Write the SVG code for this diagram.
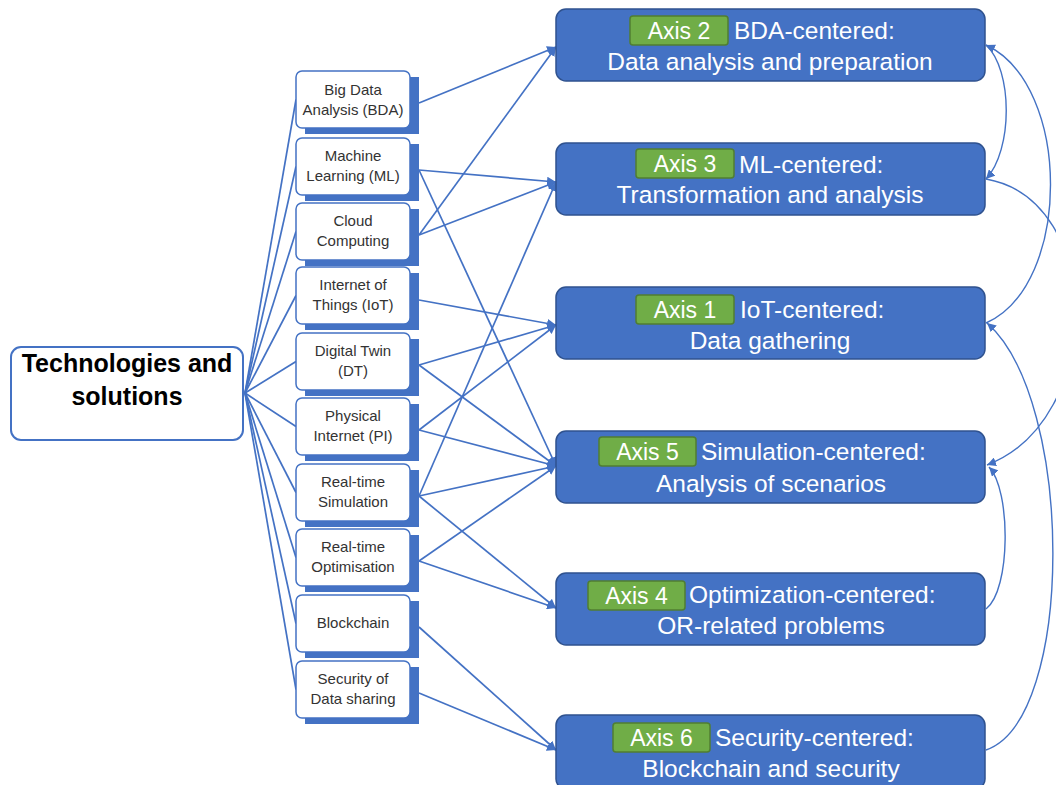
<svg xmlns="http://www.w3.org/2000/svg" width="1056" height="785" viewBox="0 0 1056 785">
<defs>
<style>
.ln{stroke:#4472C4;stroke-width:1.7;fill:none}
.cv{stroke:#4472C4;stroke-width:1.4;fill:none}
.node{fill:#fff;stroke:#4472C4;stroke-width:1.5}
.shadow{fill:#4472C4}
.ntx{font-family:"Liberation Sans",Arial,sans-serif;font-size:15px;fill:#333;text-anchor:middle}
.axis{fill:#4472C4;stroke:#2F528F;stroke-width:1.5}
.badge{fill:#70AD47;stroke:#507E32;stroke-width:1.5}
.btx{font-family:"Liberation Sans",Arial,sans-serif;font-size:23px;fill:#fff;text-anchor:middle}
.atx{font-family:"Liberation Sans",Arial,sans-serif;font-size:24.5px;fill:#fff}
.rtx{font-family:"Liberation Sans",Arial,sans-serif;font-size:25px;font-weight:bold;fill:#000;text-anchor:middle}
</style>
<marker id="ah" viewBox="0 0 10 10" refX="10" refY="5" markerWidth="9" markerHeight="9" markerUnits="userSpaceOnUse" orient="auto">
<path d="M0,0 L10,5 L0,10 z" fill="#4472C4"/>
</marker>
</defs>
<rect width="1056" height="785" fill="#fff"/>

<g id="connectors">
<line class="ln" x1="245" y1="393" x2="296" y2="99.5"/>
<line class="ln" x1="245" y1="393" x2="296" y2="166.5"/>
<line class="ln" x1="245" y1="393" x2="296" y2="231.5"/>
<line class="ln" x1="245" y1="393" x2="296" y2="295.5"/>
<line class="ln" x1="245" y1="393" x2="296" y2="361.5"/>
<line class="ln" x1="245" y1="393" x2="296" y2="426.5"/>
<line class="ln" x1="245" y1="393" x2="296" y2="492.5"/>
<line class="ln" x1="245" y1="393" x2="296" y2="557.5"/>
<line class="ln" x1="245" y1="393" x2="296" y2="623.5"/>
<line class="ln" x1="245" y1="393" x2="296" y2="689.5"/>
<line class="ln" marker-end="url(#ah)" x1="419" y1="103" x2="556" y2="47"/>
<line class="ln" marker-end="url(#ah)" x1="419" y1="170" x2="556" y2="182"/>
<line class="ln" marker-end="url(#ah)" x1="419" y1="170" x2="556" y2="466"/>
<line class="ln" marker-end="url(#ah)" x1="419" y1="235" x2="556" y2="47"/>
<line class="ln" marker-end="url(#ah)" x1="419" y1="235" x2="556" y2="182"/>
<line class="ln" marker-end="url(#ah)" x1="419" y1="300" x2="556" y2="325"/>
<line class="ln" marker-end="url(#ah)" x1="419" y1="365" x2="556" y2="325"/>
<line class="ln" marker-end="url(#ah)" x1="419" y1="365" x2="556" y2="466"/>
<line class="ln" marker-end="url(#ah)" x1="419" y1="430" x2="556" y2="325"/>
<line class="ln" marker-end="url(#ah)" x1="419" y1="430" x2="556" y2="466"/>
<line class="ln" marker-end="url(#ah)" x1="419" y1="496" x2="556" y2="182"/>
<line class="ln" marker-end="url(#ah)" x1="419" y1="496" x2="556" y2="466"/>
<line class="ln" marker-end="url(#ah)" x1="419" y1="496" x2="556" y2="608"/>
<line class="ln" marker-end="url(#ah)" x1="419" y1="561" x2="556" y2="466"/>
<line class="ln" marker-end="url(#ah)" x1="419" y1="561" x2="556" y2="608"/>
<line class="ln" marker-end="url(#ah)" x1="419" y1="627" x2="556" y2="750"/>
<line class="ln" marker-end="url(#ah)" x1="419" y1="693" x2="556" y2="750"/>
<path class="cv" marker-end="url(#ah)" d="M986,323 C1072,285 1072,85 986,45"/>
<path class="cv" marker-end="url(#ah)" d="M986,45 C1013,70 1013,150 986,179"/>
<path class="cv" marker-end="url(#ah)" d="M986,179 C1105,200 1105,420 987,465"/>
<path class="cv" marker-end="url(#ah)" d="M986,609 C1011,590 1011,490 989,467"/>
<path class="cv" marker-end="url(#ah)" d="M986,750 C1075,720 1075,400 987,323"/>
</g>

<g id="root">
<rect x="11" y="347" width="232" height="93" rx="10" fill="#fff" stroke="#4472C4" stroke-width="2"/>
<text class="rtx" x="127" y="372">Technologies and</text>
<text class="rtx" x="127" y="405">solutions</text>
</g>

<g id="n-bda">
<rect class="shadow" x="305" y="77" width="114" height="57"/>
<rect class="node" x="296" y="71" width="114" height="57" rx="6"/>
<text class="ntx" x="353" y="95">Big Data</text>
<text class="ntx" x="353" y="115">Analysis (BDA)</text>
</g>
<g id="n-ml">
<rect class="shadow" x="305" y="144" width="114" height="57"/>
<rect class="node" x="296" y="138" width="114" height="57" rx="6"/>
<text class="ntx" x="353" y="161">Machine</text>
<text class="ntx" x="353" y="181">Learning (ML)</text>
</g>
<g id="n-cloud">
<rect class="shadow" x="305" y="209" width="114" height="57"/>
<rect class="node" x="296" y="203" width="114" height="57" rx="6"/>
<text class="ntx" x="353" y="226">Cloud</text>
<text class="ntx" x="353" y="246">Computing</text>
</g>
<g id="n-iot">
<rect class="shadow" x="305" y="273" width="114" height="57"/>
<rect class="node" x="296" y="267" width="114" height="57" rx="6"/>
<text class="ntx" x="353" y="290">Internet of</text>
<text class="ntx" x="353" y="310">Things (IoT)</text>
</g>
<g id="n-dt">
<rect class="shadow" x="305" y="339" width="114" height="57"/>
<rect class="node" x="296" y="333" width="114" height="57" rx="6"/>
<text class="ntx" x="353" y="356">Digital Twin</text>
<text class="ntx" x="353" y="376">(DT)</text>
</g>
<g id="n-pi">
<rect class="shadow" x="305" y="404" width="114" height="57"/>
<rect class="node" x="296" y="398" width="114" height="57" rx="6"/>
<text class="ntx" x="353" y="421">Physical</text>
<text class="ntx" x="353" y="441">Internet (PI)</text>
</g>
<g id="n-rts">
<rect class="shadow" x="305" y="470" width="114" height="57"/>
<rect class="node" x="296" y="464" width="114" height="57" rx="6"/>
<text class="ntx" x="353" y="487">Real-time</text>
<text class="ntx" x="353" y="507">Simulation</text>
</g>
<g id="n-rto">
<rect class="shadow" x="305" y="535" width="114" height="57"/>
<rect class="node" x="296" y="529" width="114" height="57" rx="6"/>
<text class="ntx" x="353" y="552">Real-time</text>
<text class="ntx" x="353" y="572">Optimisation</text>
</g>
<g id="n-bc">
<rect class="shadow" x="305" y="601" width="114" height="57"/>
<rect class="node" x="296" y="595" width="114" height="57" rx="6"/>
<text class="ntx" x="353" y="628">Blockchain</text>
</g>
<g id="n-sec">
<rect class="shadow" x="305" y="667" width="114" height="57"/>
<rect class="node" x="296" y="661" width="114" height="57" rx="6"/>
<text class="ntx" x="353" y="684">Security of</text>
<text class="ntx" x="353" y="704">Data sharing</text>
</g>

<g id="axis2">
<rect class="axis" x="556" y="9" width="429" height="72" rx="10"/>
<rect class="badge" x="630" y="16" width="98" height="29" rx="3"/>
<text class="btx" x="679" y="39">Axis 2</text>
<text class="atx" x="734" y="39">BDA-centered:</text>
<text class="atx" x="770" y="70" text-anchor="middle">Data analysis and preparation</text>
</g>
<g id="axis3">
<rect class="axis" x="556" y="143" width="429" height="72" rx="10"/>
<rect class="badge" x="636" y="149" width="98" height="29" rx="3"/>
<text class="btx" x="685" y="172">Axis 3</text>
<text class="atx" x="739" y="173">ML-centered:</text>
<text class="atx" x="770" y="203" text-anchor="middle">Transformation and analysis</text>
</g>
<g id="axis1">
<rect class="axis" x="556" y="287" width="429" height="72" rx="10"/>
<rect class="badge" x="636" y="295" width="98" height="29" rx="3"/>
<text class="btx" x="685" y="318">Axis 1</text>
<text class="atx" x="740" y="318">IoT-centered:</text>
<text class="atx" x="770" y="349" text-anchor="middle">Data gathering</text>
</g>
<g id="axis5">
<rect class="axis" x="556" y="431" width="429" height="72" rx="10"/>
<rect class="badge" x="599" y="437" width="97" height="29" rx="3"/>
<text class="btx" x="647.5" y="460">Axis 5</text>
<text class="atx" x="701" y="460">Simulation-centered:</text>
<text class="atx" x="771" y="492" text-anchor="middle">Analysis of scenarios</text>
</g>
<g id="axis4">
<rect class="axis" x="556" y="573" width="429" height="72" rx="10"/>
<rect class="badge" x="588" y="581" width="97" height="29" rx="3"/>
<text class="btx" x="636.5" y="604">Axis 4</text>
<text class="atx" x="689" y="603">Optimization-centered:</text>
<text class="atx" x="771" y="634" text-anchor="middle">OR-related problems</text>
</g>
<g id="axis6">
<rect class="axis" x="556" y="715" width="429" height="74" rx="10"/>
<rect class="badge" x="613" y="723" width="97" height="29" rx="3"/>
<text class="btx" x="661.5" y="746">Axis 6</text>
<text class="atx" x="715" y="746">Security-centered:</text>
<text class="atx" x="771" y="777" text-anchor="middle">Blockchain and security</text>
</g>
</svg>
